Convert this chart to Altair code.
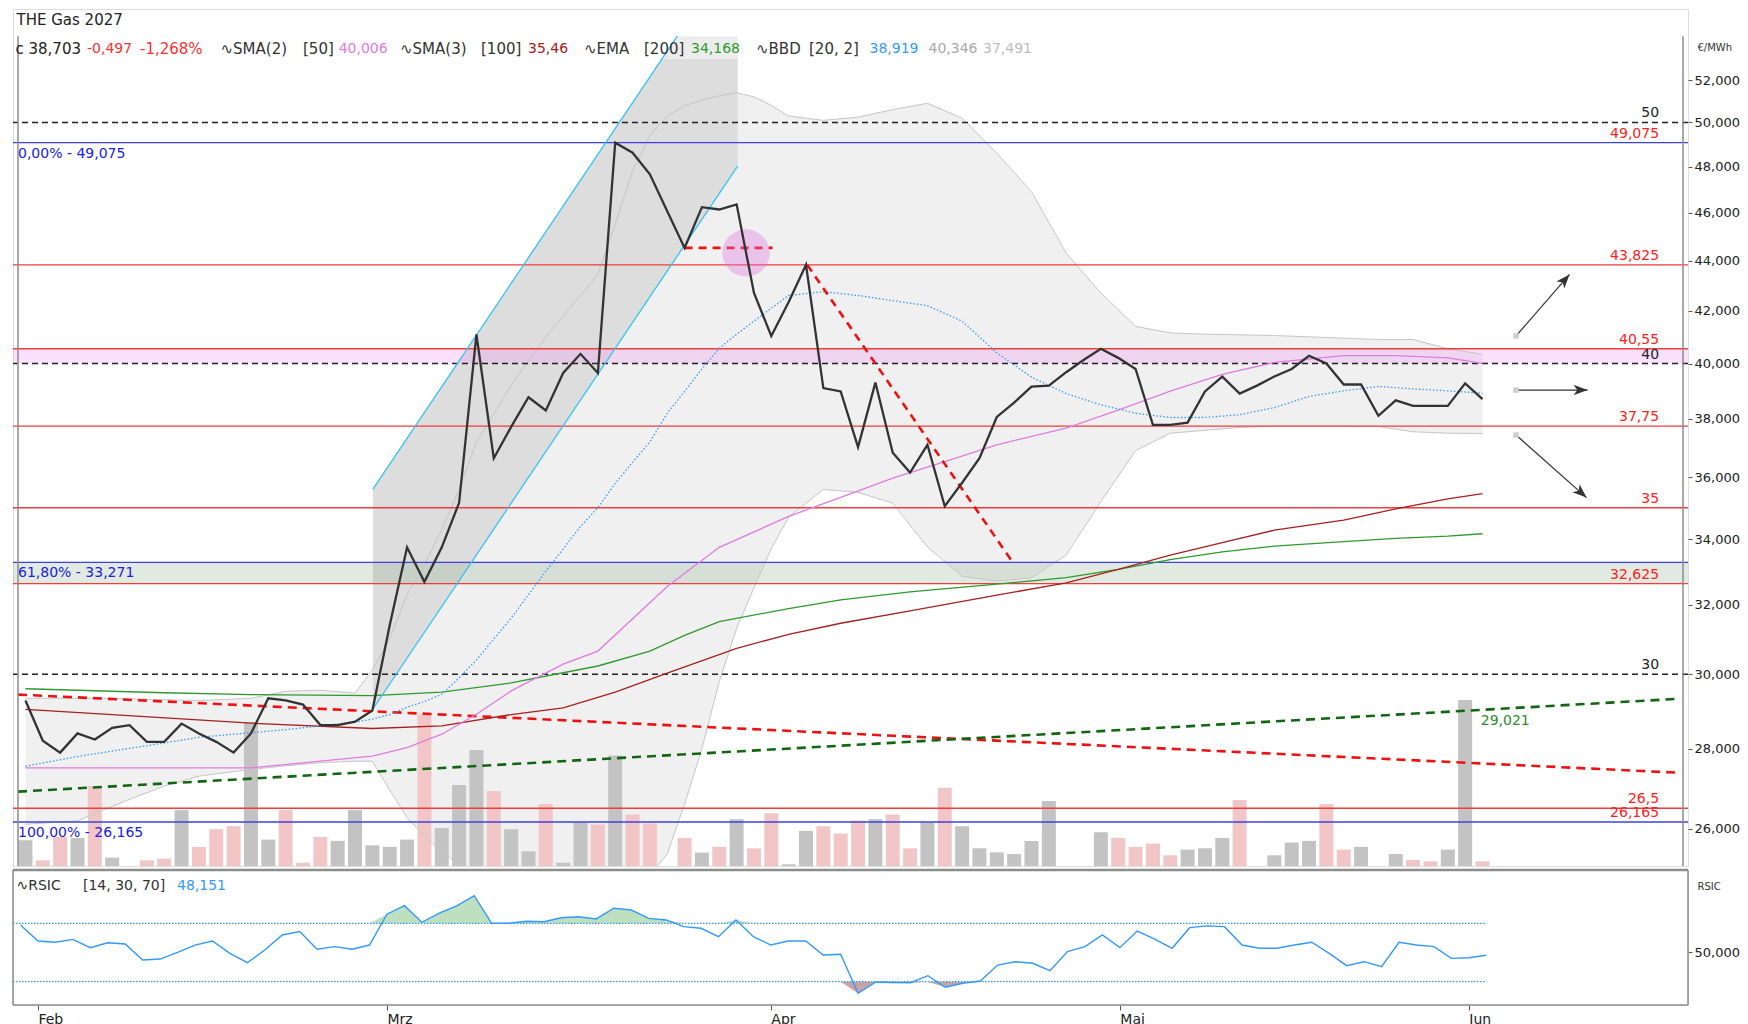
import altair as alt
import pandas as pd

FONT = "DejaVu Sans"

# ---------------- categories / tick labels ----------------
month_labels = ["Feb", "Mrz", "Apr", "Mai", "Jun"]
month_ticks = [1, 21, 43, 63, 83]          # trading-day index of first day in month
price_ticks = [26, 28, 30, 32, 34, 36, 38, 40, 42, 44, 46, 48, 50, 52]

# ---------------- daily series (trading day index 0..84) ----------------
day = list(range(85))
close = [29.28, 28.21, 27.90, 28.40, 28.24, 28.55, 28.62, 28.18, 28.18, 28.66,
         28.40, 28.18, 27.90, 28.40, 29.34, 29.28, 29.17, 28.62, 28.62, 28.71,
         29.01, 31.39, 33.74, 32.68, 33.74, 35.16, 41.09, 36.64, 37.72, 38.77,
         38.30, 39.65, 40.36, 39.65, 49.075, 48.62, 47.66, 46.06, 44.52, 46.23,
         46.13, 46.35, 42.70, 41.03, 42.34, 43.825, 39.10, 38.98, 37.02, 39.30,
         36.83, 36.16, 37.10, 35.05, 35.82, 36.64, 38.07, 38.58, 39.15, 39.19,
         39.68, 40.13, 40.55, 40.21, 39.80, 37.79, 37.79, 37.87, 38.98, 39.52,
         38.90, 39.19, 39.52, 39.80, 40.29, 40.00, 39.23, 39.23, 38.11, 38.66,
         38.46, 38.46, 38.46, 39.27, 38.703]
volume = [25.8, 5.7, 29, 28, 80, 8.4, 0, 5.7, 7.4, 55.9,
          19, 36.8, 39.8, 143.8, 26.4, 55.9, 3.3, 29.1, 25.1, 55.9,
          20.7, 19.1, 26.4, 151.6, 38.1, 80.9, 116, 74.9, 36.8, 14.7,
          61.9, 3.3, 43.5, 41.5, 110.4, 51.5, 42.5, 0, 28.1, 13.4,
          19.1, 46.8, 17.7, 52.8, 1.7, 35.1, 39.8, 32.4, 45.5, 46.8,
          51.5, 17.7, 43.5, 78.3, 39.8, 17.7, 13.7, 12.0, 25.1, 64.9,
          0, 0, 33.8, 28.1, 19.1, 22.4, 10.7, 16.4, 17.7, 28.1,
          65.9, 0, 10.7, 23.4, 25.1, 61.9, 16.4, 19.1, 0, 12.0,
          6.0, 4.7, 16.4, 166, 4.7]
vol_dir = list("udduduuddu" "ddduuddduu" "uuuduuuduu" "duududdudu" "dudduudddu"
               "dduduuuuuu" "uuudddduuu" "duuuudduuu" "dduud")
rsi = [68.8, 57.9, 57.0, 59.0, 53.3, 56.7, 55.8, 44.9, 45.5, 50.1,
       55.1, 57.9, 49.4, 43.0, 51.7, 62.0, 64.3, 52.2, 54.0, 52.2,
       55.1, 76.2, 82.1, 70.7, 77.0, 82.0, 88.9, 70.0, 70.0, 71.4,
       71.1, 73.8, 74.5, 73.0, 80.3, 79.1, 73.4, 72.3, 67.7, 66.6,
       60.8, 72.3, 60.8, 55.1, 57.9, 57.9, 48.3, 48.8, 22.1, 29.6,
       29.5, 29.3, 34.1, 26.2, 28.9, 30.5, 41.4, 43.7, 42.6, 37.5,
       50.6, 54.0, 62.0, 53.3, 64.7, 59.2, 52.9, 67.0, 68.2, 67.7,
       55.1, 52.9, 52.9, 55.1, 57.0, 49.4, 41.0, 43.7, 40.3, 57.0,
       55.1, 54.0, 46.0, 46.4, 48.151]

# ---------------- Bollinger bands (read at sample days) ----------------
bb_day = [0, 3, 5, 8, 10, 13, 15, 17, 19, 20, 21, 22, 23, 24, 25, 26, 28, 30, 32, 33,
          34, 35, 36, 37, 38, 39, 40, 41, 42, 43, 44, 46, 48, 50, 52, 54, 56, 58, 60, 62,
          64, 66, 68, 70, 72, 74, 76, 78, 80, 82, 84]
bb_upper = [29.34, 29.34, 29.34, 29.30, 29.28, 29.34, 29.53, 29.56, 29.48, 30.12,
            31.0, 32.3, 33.2, 34.3, 35.6, 37.2, 39.2, 41.0, 42.6, 43.43,
            45.5, 47.8, 49.4, 50.3, 50.78, 51.05, 51.25, 51.4, 51.2, 50.8,
            50.3, 50.1, 50.25, 50.6, 50.9, 50.2, 48.6, 46.9, 44.3, 42.7,
            41.4, 41.15, 41.1, 41.08, 41.05, 41.0, 40.95, 40.9, 40.9, 40.55, 40.346]
bb_lower = [26.11, 26.19, 26.55, 27.05, 27.30, 27.47, 27.56, 27.64, 27.68, 27.68,
            26.95, 26.27, 25.82, 25.47, 25.14, 24.6, 23.8, 23.3, 23.4, 23.6,
            24.0, 24.4, 24.9, 25.4, 26.6, 28.0, 29.8, 31.3, 32.5, 33.7,
            34.7, 35.6, 35.5, 35.15, 33.75, 32.85, 32.7, 32.8, 33.5, 35.2,
            36.9, 37.5, 37.6, 37.7, 37.75, 37.75, 37.75, 37.73, 37.55, 37.5, 37.491]
bb_mid = [27.55, 27.8, 27.94, 28.15, 28.30, 28.42, 28.5, 28.6, 28.7, 28.78,
          28.9, 29.1, 29.25, 29.45, 29.9, 30.4, 31.6, 33.0, 34.4, 35.0,
          35.8, 36.5, 37.2, 38.2, 38.98, 39.8, 40.57, 41.1, 41.6, 42.1,
          42.6, 42.75, 42.6, 42.4, 42.2, 41.6, 40.4, 39.5, 38.9, 38.5,
          38.2, 38.05, 38.05, 38.15, 38.4, 38.8, 39.0, 39.16, 39.07, 39.0, 38.919]

# ---------------- moving averages ----------------
sma50_day = [0, 13, 17, 20, 22, 24, 26, 28, 31, 33, 37, 40, 44, 47, 50, 53, 56, 60, 63, 66,
             69, 72, 76, 79, 82, 84]
sma50 = [27.51, 27.51, 27.68, 27.81, 28.03, 28.38, 28.91, 29.54, 30.28, 30.65, 32.54, 33.74,
         34.72, 35.34, 35.97, 36.53, 37.10, 37.68, 38.31, 38.99, 39.60, 40.04, 40.29, 40.29,
         40.21, 40.006]
sma100_day = [0, 5, 13, 20, 24, 28, 31, 34, 37, 41, 44, 47, 51, 56, 60, 63, 66, 69, 72, 76,
              79, 82, 84]
sma100 = [29.04, 28.90, 28.67, 28.53, 28.60, 28.90, 29.08, 29.51, 30.03, 30.73, 31.13, 31.45,
          31.81, 32.28, 32.65, 33.06, 33.50, 33.89, 34.28, 34.60, 34.96, 35.29, 35.46]
ema200_day = [0, 8, 13, 20, 24, 28, 33, 36, 38, 40, 44, 47, 51, 56, 60, 63, 66, 69, 72, 76,
              79, 82, 84]
ema200 = [29.60, 29.49, 29.44, 29.41, 29.51, 29.76, 30.23, 30.65, 31.1, 31.5, 31.88, 32.14,
          32.38, 32.61, 32.81, 33.06, 33.36, 33.60, 33.78, 33.92, 34.02, 34.09, 34.168]

# ---------------- drawing tools ----------------
red_levels = [43.825, 40.55, 37.75, 35.0, 32.625, 26.5]
blue_levels = [49.075, 33.271, 26.165]
dash_levels = [50, 40, 30]
red_label_text = ["49,075", "43,825", "40,55", "37,75", "35", "32,625", "26,5", "26,165"]
red_label_val = [49.075, 43.825, 40.55, 37.75, 35.0, 32.625, 26.5, 26.165]
fib_text = ["0,00% - 49,075", "61,80% - 33,271", "100,00% - 26,165"]
dash_text = ["50", "40", "30"]
pink_zone = [40.0, 40.55]
green_zone = [32.625, 33.271]

chan_up_day, chan_up_val = [20.03, 37.58], [35.61, 54.16]
chan_lo_day, chan_lo_val = [20.03, 41.06], [29.05, 48.02]
chan_fill_day, chan_fill_top, chan_fill_bot = [20.03, 36.7, 41.06], [35.61, 53.04, 53.04], [29.05, 43.26, 48.02]
chan_strip_day, chan_strip_top = [36.7, 37.58, 41.06], [53.04, 54.16, 54.16]

trend_red_day, trend_red_val = [-0.43, 95.1], [29.44, 27.39]
trend_green_day, trend_green_val = [-0.43, 95.1], [26.91, 29.32]
down_day, down_val = [45.07, 56.9], [43.825, 33.29]
flat_day, flat_val = [38.0, 43.07], [44.52, 44.52]
circle_day, circle_val = [41.54], [44.31]

arrow_x0 = [85.93, 85.93, 85.93]
arrow_y0 = [41.03, 39.03, 37.44]
arrow_x1 = [89.02, 90.06, 90.0]
arrow_y1 = [43.44, 39.03, 35.33]
arrow_ang = [41, 90, 131.6]

# (text, x position in px, colour, font size)
header_items = [("c 38,703", 13.5, "#222222", 15), ("-0,497", 85, "#ff3030", 14),
                ("-1,268%", 138, "#ff3030", 15),
                ("∿SMA(2)", 218.5, "#333333", 15), ("[50]", 301, "#333333", 15), ("40,006", 336.7, "#e07be0", 14),
                ("∿SMA(3)", 398, "#333333", 15), ("[100]", 479, "#333333", 15), ("35,46", 526, "#a52020", 14),
                ("∿EMA", 582, "#333333", 15), ("[200]", 642, "#333333", 15), ("34,168", 689, "#2e9a2e", 14),
                ("∿BBD", 754, "#333333", 15), ("[20, 2]", 807, "#333333", 15), ("38,919", 867.5, "#3399ff", 14),
                ("40,346", 926.5, "#aaaaaa", 14), ("37,491", 981, "#bdbdbd", 14)]
rsi_header = [("∿RSIC", 14.5, "#333333"), ("[14, 30, 70]", 81, "#333333"), ("48,151", 175, "#3399ff")]

# ---------------- geometry ----------------
X_DOM = [-0.43, 95.56]
P_DOM = [25.12, 55.54]
R_DOM = [14.04, 106.5]
PANEL_TOP = 54.16
W, HP, HR = 1675, 857, 135

xs = alt.Scale(domain=X_DOM, nice=False, zero=False)
ps = alt.Scale(type="log", domain=P_DOM, nice=False)
rs = alt.Scale(domain=R_DOM, nice=False, zero=False)
fmt = "replace(format(datum.value, '.3f'), '.', ',')"

price_axis = alt.Axis(orient="right", values=price_ticks, labelExpr=fmt, title="€/MWh",
                      titleAngle=0, titleAlign="left", titleBaseline="middle", titleX=9, titleY=38,
                      titleFontSize=10, titleFontWeight="normal", titleColor="#333", titleFont=FONT,
                      labelFont=FONT, labelFontSize=13, labelColor="#222", tickSize=4,
                      tickColor="#555", labelPadding=2, domain=False, grid=False)


def PX(f):
    return alt.X(f"{f}:Q", scale=xs, axis=None)


def PY(f):
    return alt.Y(f"{f}:Q", scale=ps, axis=price_axis)


def PYn(f):
    return alt.Y(f"{f}:Q", scale=ps, axis=None)


one = pd.DataFrame({"a": [0]})
daily = pd.DataFrame({"day": day, "close": close, "vol": volume, "dir": vol_dir, "rsi": rsi})
bb = pd.DataFrame({"day": bb_day, "upper": bb_upper, "lower": bb_lower, "mid": bb_mid})


def seg(xv, yv):
    return pd.DataFrame({"x": xv, "y": yv})


# ---- background (own y scale) ----
bb_fill = alt.Chart(bb).mark_area(color="#f0f0f0", clip=True).encode(
    x=PX("day"), y=PYn("upper"), y2="lower:Q")
chan_fill = alt.Chart(pd.DataFrame({"x": chan_fill_day, "t": chan_fill_top, "b": chan_fill_bot})).mark_area(
    color="#dddddd", clip=True).encode(x=PX("x"), y=PYn("t"), y2="b:Q")
chan_strip = alt.Chart(pd.DataFrame({"x": chan_strip_day, "t": chan_strip_top, "b": [53.04] * 3})).mark_area(
    color="#ececec", clip=True).encode(x=PX("x"), y=PYn("t"), y2="b:Q")
bg = alt.layer(bb_fill, chan_fill, chan_strip)

# ---- volume (own y scale) ----
vol = alt.Chart(daily).mark_bar(size=14, clip=True).encode(
    x=PX("day"),
    y=alt.Y("vol:Q", scale=alt.Scale(domain=[0, HP]), axis=None),
    color=alt.Color("dir:N", scale=alt.Scale(domain=["u", "d"], range=["#c3c3c3", "#f2c6c6"]), legend=None))

# ---- foreground (price scale with axis) ----
layers = []
layers.append(alt.Chart(pd.DataFrame({"a": [pink_zone[0]], "b": [pink_zone[1]]})).mark_rect(
    color="#ee99ee", opacity=0.3).encode(y=PY("a"), y2="b:Q"))
layers.append(alt.Chart(pd.DataFrame({"a": [green_zone[0]], "b": [green_zone[1]]})).mark_rect(
    color="#88aa88", opacity=0.25).encode(y=PY("a"), y2="b:Q"))
layers.append(alt.Chart(bb).mark_line(color="#c6c6c6", strokeWidth=1, clip=True).encode(x=PX("day"), y=PY("upper")))
layers.append(alt.Chart(bb).mark_line(color="#c6c6c6", strokeWidth=1, clip=True).encode(x=PX("day"), y=PY("lower")))
layers.append(alt.Chart(pd.DataFrame({"y": red_levels})).mark_rule(color="#f03c3c", strokeWidth=1.3).encode(y=PY("y")))
layers.append(alt.Chart(pd.DataFrame({"y": blue_levels})).mark_rule(color="#4040dc", strokeWidth=1.3).encode(y=PY("y")))
layers.append(alt.Chart(pd.DataFrame({"y": dash_levels})).mark_rule(
    color="#222", strokeWidth=1.3, strokeDash=[6, 4]).encode(y=PY("y")))
layers.append(alt.Chart(seg(trend_red_day, trend_red_val)).mark_line(
    color="#ee1111", strokeWidth=2.6, strokeDash=[9, 6], clip=True).encode(x=PX("x"), y=PY("y")))
layers.append(alt.Chart(seg(trend_green_day, trend_green_val)).mark_line(
    color="#116611", strokeWidth=2.6, strokeDash=[9, 6], clip=True).encode(x=PX("x"), y=PY("y")))
layers.append(alt.Chart(seg(ema200_day, ema200)).mark_line(color="#2e9a2e", strokeWidth=1.3).encode(x=PX("x"), y=PY("y")))
layers.append(alt.Chart(seg(sma100_day, sma100)).mark_line(color="#a52020", strokeWidth=1.3).encode(x=PX("x"), y=PY("y")))
layers.append(alt.Chart(seg(sma50_day, sma50)).mark_line(color="#e07be0", strokeWidth=1.3).encode(x=PX("x"), y=PY("y")))
layers.append(alt.Chart(bb).mark_line(color="#3399ff", strokeWidth=1.3, strokeDash=[1.5, 2]).encode(
    x=PX("day"), y=PY("mid")))
layers.append(alt.Chart(seg(chan_up_day, chan_up_val)).mark_line(color="#33c3f3", strokeWidth=1.3, clip=True).encode(
    x=PX("x"), y=PY("y")))
layers.append(alt.Chart(seg(chan_lo_day, chan_lo_val)).mark_line(color="#33c3f3", strokeWidth=1.3, clip=True).encode(
    x=PX("x"), y=PY("y")))
layers.append(alt.Chart(seg(down_day, down_val)).mark_line(
    color="#ee1111", strokeWidth=2.6, strokeDash=[8, 6]).encode(x=PX("x"), y=PY("y")))
layers.append(alt.Chart(seg(flat_day, flat_val)).mark_line(
    color="#ee1111", strokeWidth=2.6, strokeDash=[8, 6]).encode(x=PX("x"), y=PY("y")))
layers.append(alt.Chart(seg(circle_day, circle_val)).mark_point(
    shape="circle", filled=True, size=2240, color="#e070e0", opacity=0.35).encode(x=PX("x"), y=PY("y")))
layers.append(alt.Chart(daily).mark_line(color="#333333", strokeWidth=2.3).encode(x=PX("day"), y=PY("close")))

arrows = pd.DataFrame({"x0": arrow_x0, "y0": arrow_y0, "x1": arrow_x1, "y1": arrow_y1, "ang": arrow_ang})
layers.append(alt.Chart(arrows).mark_rule(color="#333", strokeWidth=1.2).encode(
    x=PX("x0"), y=PY("y0"), x2="x1:Q", y2="y1:Q"))
layers.append(alt.Chart(arrows).mark_point(shape="M0,0L0.75,2L0,1.45L-0.75,2Z", filled=True, size=200,
                                           color="#333", opacity=1).encode(
    x=PX("x1"), y=PY("y1"), angle=alt.Angle("ang:Q", scale=None)))
layers.append(alt.Chart(arrows).mark_point(shape="square", filled=True, size=30, color="#cfcfcf", opacity=1).encode(
    x=PX("x0"), y=PY("y0")))

# text labels
lbl_x = 94.18
layers.append(alt.Chart(pd.DataFrame({"x": [lbl_x] * len(red_label_val), "y": red_label_val, "t": red_label_text})).mark_text(
    align="right", baseline="bottom", dy=-2, font=FONT, fontSize=14, color="#ff2020").encode(
    x=PX("x"), y=PY("y"), text="t:N"))
layers.append(alt.Chart(pd.DataFrame({"x": [lbl_x] * 3, "y": dash_levels, "t": dash_text})).mark_text(
    align="right", baseline="bottom", dy=-2, font=FONT, fontSize=14, color="#222").encode(
    x=PX("x"), y=PY("y"), text="t:N"))
layers.append(alt.Chart(pd.DataFrame({"x": [X_DOM[0]] * 3, "y": blue_levels, "t": fib_text})).mark_text(
    align="left", baseline="top", dx=0, dy=4, font=FONT, fontSize=14, color="#2020e0").encode(
    x=PX("x"), y=PY("y"), text="t:N"))
layers.append(alt.Chart(pd.DataFrame({"x": [83.9], "y": [29.021], "t": ["29,021"]})).mark_text(
    align="left", baseline="top", dy=4, font=FONT, fontSize=14, color="#2e8b2e").encode(
    x=PX("x"), y=PY("y"), text="t:N"))
# frame
layers.append(alt.Chart(pd.DataFrame({"x": X_DOM, "y": [PANEL_TOP] * 2, "y2": [P_DOM[0]] * 2})).mark_rule(
    color="#8c8c8c", strokeWidth=1.5).encode(x=PX("x"), y=PY("y"), y2="y2:Q"))

layers.append(alt.Chart(one).mark_text(text="THE Gas 2027", align="left", baseline="middle", font=FONT,
                                       fontSize=15, color="#222").encode(x=alt.value(3.5), y=alt.value(11)))
for txt, px, col, fs in header_items:
    layers.append(alt.Chart(one).mark_text(text=txt, align="left", baseline="middle", font=FONT,
                                           fontSize=fs, color=col).encode(x=alt.value(px - 11), y=alt.value(40)))

fg = alt.layer(*layers)
price = alt.layer(bg, vol, fg).resolve_scale(y="independent").properties(width=W, height=HP)

# ---------------- RSI panel ----------------
xlab = "''"
for v, l in reversed(list(zip(month_ticks, month_labels))):
    xlab = f"datum.value == {v} ? '{l}' : {xlab}"
x_axis = alt.Axis(values=month_ticks, labelExpr=xlab, labelAlign="left", labelFont=FONT, labelFontSize=14,
                  labelColor="#222", tickSize=5, tickColor="#555", domain=False, grid=False, title=None,
                  labelPadding=2)
rsi_axis = alt.Axis(orient="right", values=[50], labelExpr=fmt, title="RSIC", titleAngle=0, titleAlign="left",
                    titleBaseline="middle", titleX=9, titleY=16, titleFontSize=10, titleFontWeight="normal",
                    titleColor="#333", titleFont=FONT, labelFont=FONT, labelFontSize=13, labelColor="#222",
                    tickSize=4, tickColor="#555", labelPadding=2, domain=False, grid=False)


def RX(f):
    return alt.X(f"{f}:Q", scale=xs, axis=x_axis)


def RY(f):
    return alt.Y(f"{f}:Q", scale=rs, axis=rsi_axis)


rl = []
rl.append(alt.Chart(daily).transform_calculate(hi="max(datum.rsi, 70)", b="70").mark_area(color="#bfe0bf").encode(
    x=RX("day"), y=RY("hi"), y2="b:Q"))
rl.append(alt.Chart(daily).transform_calculate(lo="min(datum.rsi, 30)", b="30").mark_area(color="#c8a4a4").encode(
    x=RX("day"), y=RY("lo"), y2="b:Q"))
rl.append(alt.Chart(pd.DataFrame({"y": [30, 70], "x": [X_DOM[0]] * 2, "x2": [84, 84]})).mark_rule(
    color="#3399ff", strokeWidth=1.2, strokeDash=[1.5, 1.5]).encode(x=RX("x"), x2="x2:Q", y=RY("y")))
rl.append(alt.Chart(daily).mark_line(color="#3399ff", strokeWidth=1.4).encode(x=RX("day"), y=RY("rsi")))
rl.append(alt.Chart(pd.DataFrame({"x": X_DOM, "y": [R_DOM[1]] * 2, "y2": [R_DOM[0]] * 2})).mark_rule(
    color="#8c8c8c", strokeWidth=1.5).encode(x=RX("x"), y=RY("y"), y2="y2:Q"))
rl.append(alt.Chart(pd.DataFrame({"y": [R_DOM[1]]})).mark_rule(color="#8c8c8c", strokeWidth=2.5).encode(y=RY("y")))
rl.append(alt.Chart(pd.DataFrame({"y": [R_DOM[0]]})).mark_rule(color="#8c8c8c", strokeWidth=1.5).encode(y=RY("y")))
for txt, px, col in rsi_header:
    rl.append(alt.Chart(one).mark_text(text=txt, align="left", baseline="middle", font=FONT,
                                       fontSize=14, color=col).encode(x=alt.value(px - 11), y=alt.value(16)))
rsi_chart = alt.layer(*rl).properties(width=W, height=HR)

chart = alt.vconcat(price, rsi_chart, spacing=0).properties(
    padding={"left": 3, "top": 0, "right": 0, "bottom": 0}
).configure_view(stroke=None).configure(font=FONT)

chart.save("out.html", embed_options={"renderer": "svg", "actions": False})
